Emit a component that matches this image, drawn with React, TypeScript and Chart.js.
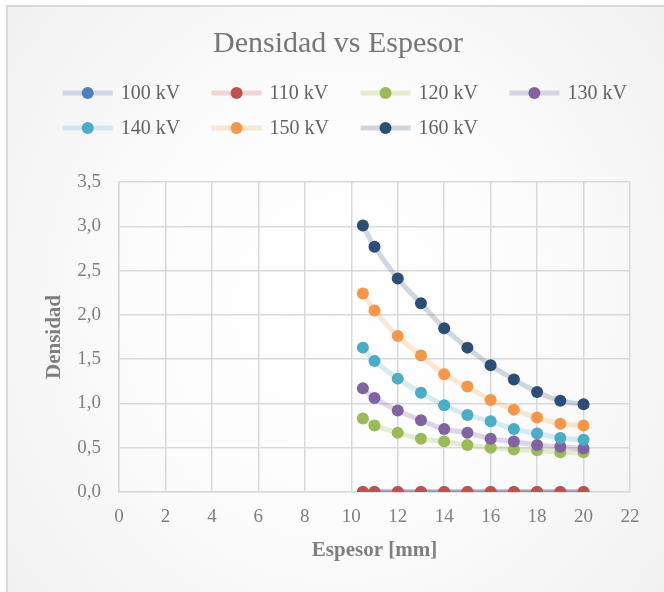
import React, { useEffect, useRef } from "react";
import { Chart, registerables } from "chart.js";

Chart.register(...registerables);

const espesor = [10.5, 11, 12, 13, 14, 15, 16, 17, 18, 19, 20];
const seriesNames = ["100 kV", "110 kV", "120 kV", "130 kV", "140 kV", "150 kV", "160 kV"];
const v100 = [0, 0, 0, 0, 0, 0, 0, 0, 0, 0, 0];
const v110 = [0, 0, 0, 0, 0, 0, 0, 0, 0, 0, 0];
const v120 = [0.83, 0.75, 0.67, 0.6, 0.57, 0.53, 0.5, 0.48, 0.47, 0.45, 0.45];
const v130 = [1.17, 1.06, 0.92, 0.81, 0.71, 0.67, 0.6, 0.57, 0.53, 0.51, 0.49];
const v140 = [1.63, 1.48, 1.28, 1.12, 0.98, 0.87, 0.8, 0.71, 0.66, 0.61, 0.59];
const v150 = [2.24, 2.05, 1.76, 1.54, 1.33, 1.19, 1.04, 0.93, 0.84, 0.77, 0.75];
const v160 = [3.01, 2.77, 2.41, 2.13, 1.85, 1.63, 1.43, 1.27, 1.13, 1.03, 0.99];
const seriesValues = [v100, v110, v120, v130, v140, v150, v160];
const xTicks = [0, 2, 4, 6, 8, 10, 12, 14, 16, 18, 20, 22];
const yTicks = [0, 0.5, 1, 1.5, 2, 2.5, 3, 3.5];

const markerColors = ["#4f81bd", "#c0504d", "#9bbb59", "#8064a2", "#4bacc6", "#f79646", "#2c4d75"];
const lineColors = [
  "rgba(79,129,189,0.25)",
  "rgba(192,80,77,0.22)",
  "rgba(155,187,89,0.25)",
  "rgba(128,100,162,0.25)",
  "rgba(75,172,198,0.22)",
  "rgba(247,150,70,0.22)",
  "rgba(44,77,117,0.22)",
];
const plotLineColors = [
  "rgba(79,129,189,0.35)",
  "rgba(140,70,90,0.35)",
  "rgba(155,187,89,0.25)",
  "rgba(128,100,162,0.25)",
  "rgba(75,172,198,0.22)",
  "rgba(247,150,70,0.22)",
  "rgba(44,77,117,0.22)",
];

const FONT = "'Liberation Serif', 'Times New Roman', serif";

const titleLegendPlugin = {
  id: "titleLegend",
  afterDraw(chart: any) {
    const ctx = chart.ctx;
    ctx.save();
    // Title
    ctx.font = `30px ${FONT}`;
    ctx.fillStyle = "#767676";
    ctx.textAlign = "center";
    ctx.textBaseline = "middle";
    ctx.fillText("Densidad vs Espesor", 338, 44);
    // Legend
    const colX = [87.7, 236.6, 385.5, 534.4];
    const rowY = [93, 128];
    ctx.font = `20px ${FONT}`;
    ctx.textAlign = "left";
    chart.data.datasets.forEach((ds: any, i: number) => {
      const cx = colX[i % 4];
      const cy = rowY[Math.floor(i / 4)];
      ctx.strokeStyle = lineColors[i];
      ctx.lineWidth = 5;
      ctx.beginPath();
      ctx.moveTo(cx - 25, cy);
      ctx.lineTo(cx + 25, cy);
      ctx.stroke();
      ctx.fillStyle = markerColors[i];
      ctx.beginPath();
      ctx.arc(cx, cy, 6, 0, Math.PI * 2);
      ctx.fill();
      ctx.fillStyle = "#636363";
      ctx.fillText(ds.label, cx + 33, cy + 1);
    });
    ctx.restore();
  },
};

export default function App() {
  const ref = useRef<HTMLCanvasElement>(null);
  useEffect(() => {
    if (!ref.current) return;
    const datasets = seriesNames.map((name, i) => ({
      label: name,
      data: espesor.map((x, j) => ({ x, y: seriesValues[i][j] })),
      showLine: true,
      borderColor: plotLineColors[i],
      borderWidth: 5,
      tension: 0.4,
      pointRadius: 6,
      pointHoverRadius: 6,
      pointBackgroundColor: markerColors[i],
      pointBorderColor: markerColors[i],
      pointBorderWidth: 0,
      order: -i,
    }));
    const chart = new Chart(ref.current, {
      type: "scatter",
      data: { datasets },
      plugins: [titleLegendPlugin],
      options: {
        animation: false,
        responsive: false,
        layout: { padding: { left: 0, right: 34, top: 182, bottom: 0 } },
        plugins: { legend: { display: false }, title: { display: false }, tooltip: { enabled: false } },
        scales: {
          x: {
            type: "linear",
            min: 0,
            max: 22,
            afterFit: (s: any) => {
              s.height = 100;
            },
            afterBuildTicks: (s: any) => {
              s.ticks = xTicks.map((v) => ({ value: v }));
            },
            ticks: { color: "#7f7f7f", font: { family: FONT, size: 19 }, padding: 14 },
            grid: { color: "#d9d9d9", lineWidth: 1.5, drawTicks: false },
            border: { color: "#d9d9d9", width: 1.5 },
            title: {
              display: true,
              text: "Espesor [mm]",
              color: "#7f7f7f",
              font: { family: FONT, size: 21, weight: "bold" },
              padding: { top: 0, bottom: 29 },
            },
          },
          y: {
            type: "linear",
            min: 0,
            max: 3.5,
            afterFit: (s: any) => {
              s.width = 119;
            },
            afterBuildTicks: (s: any) => {
              s.ticks = yTicks.map((v) => ({ value: v }));
            },
            ticks: {
              color: "#7f7f7f",
              font: { family: FONT, size: 19 },
              padding: 18,
              callback: (v: any) => Number(v).toFixed(1).replace(".", ","),
            },
            grid: { color: "#d9d9d9", lineWidth: 1.5, drawTicks: false },
            border: { color: "#d9d9d9", width: 1.5 },
            title: {
              display: true,
              text: "Densidad",
              color: "#7f7f7f",
              font: { family: FONT, size: 21, weight: "bold" },
              padding: { top: 42, bottom: 0 },
            },
          },
        },
      } as any,
    });
    return () => chart.destroy();
  }, []);

  return (
    <div style={{ position: "fixed", left: 0, top: 0, width: 664, height: 592, overflow: "hidden" }}>
      <div
        style={{
          position: "absolute",
          left: 6,
          top: 5,
          width: 700,
          height: 700,
          boxSizing: "border-box",
          border: "2px solid #d9d9d9",
          background: "radial-gradient(ellipse at 330px 300px, #ffffff 0%, #fcfcfc 40%, #ececec 100%)",
        }}
      />
      <canvas ref={ref} width={664} height={592} style={{ position: "absolute", left: 0, top: 0 }} />
    </div>
  );
}
